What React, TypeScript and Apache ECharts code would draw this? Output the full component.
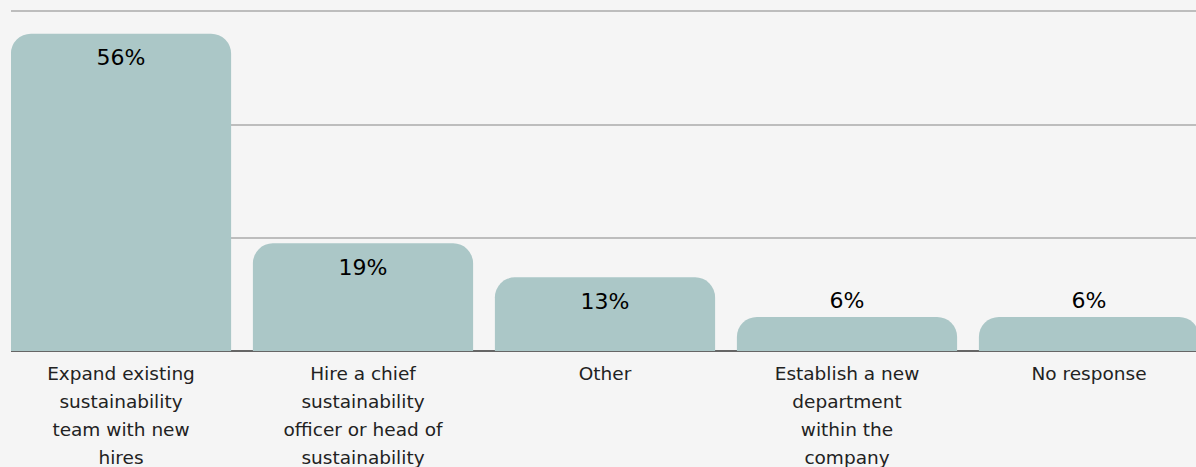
import React, { useEffect, useRef } from "react";
import * as echarts from "echarts";

const categories = [
  "Expand existing\nsustainability\nteam with new\nhires",
  "Hire a chief\nsustainability\nofficer or head of\nsustainability",
  "Other",
  "Establish a new\ndepartment\nwithin the\ncompany",
  "No response",
];
const values = [56, 19, 13, 6, 6];
const yMax = 60;
const yInterval = 20;

const FONT = "'DejaVu Sans', 'Noto Sans', sans-serif";

export default function App() {
  const ref = useRef<HTMLDivElement>(null);
  useEffect(() => {
    const chart = echarts.init(ref.current!, null, { renderer: "svg" });
    chart.setOption({
      animation: false,
      backgroundColor: "#f5f5f5",
      grid: {
        left: 0,
        right: -14,
        top: 11,
        bottom: 116,
        containLabel: false,
        outerBoundsMode: "none",
      },
      xAxis: {
        type: "category",
        data: categories,
        axisTick: { show: false },
        axisLine: { show: true, lineStyle: { color: "#666", width: 2 } },
        axisLabel: {
          interval: 0,
          margin: 8,
          fontFamily: FONT,
          fontSize: 18.5,
          lineHeight: 28,
          color: "#222",
          align: "center",
        },
      },
      yAxis: {
        type: "value",
        min: 0,
        max: yMax,
        interval: yInterval,
        axisLabel: { show: false },
        axisLine: { show: false },
        axisTick: { show: false },
        splitLine: { show: true, lineStyle: { color: "#bdbdbd", width: 2 } },
      },
      graphic: [
        {
          type: "rect",
          z: 100,
          shape: { x: 0, y: 0, width: 11, height: 353 },
          style: { fill: "#f5f5f5" },
        },
      ],
      series: [
        {
          type: "bar",
          data: values.map((v) => ({
            value: v,
            label:
              v < 10
                ? { position: "top", distance: 6 }
                : { position: "insideTop", distance: 13 },
          })),
          barCategoryGap: "9%",
          itemStyle: { color: "#abc7c7", borderRadius: [20, 20, 0, 0] },
          label: {
            show: true,
            formatter: "{c}%",
            fontFamily: FONT,
            fontSize: 22,
            color: "#000",
          },
        },
      ],
    });
    return () => chart.dispose();
  }, []);
  return (
    <div
      ref={ref}
      style={{ position: "fixed", left: 0, top: 0, width: 1196, height: 467 }}
    />
  );
}
